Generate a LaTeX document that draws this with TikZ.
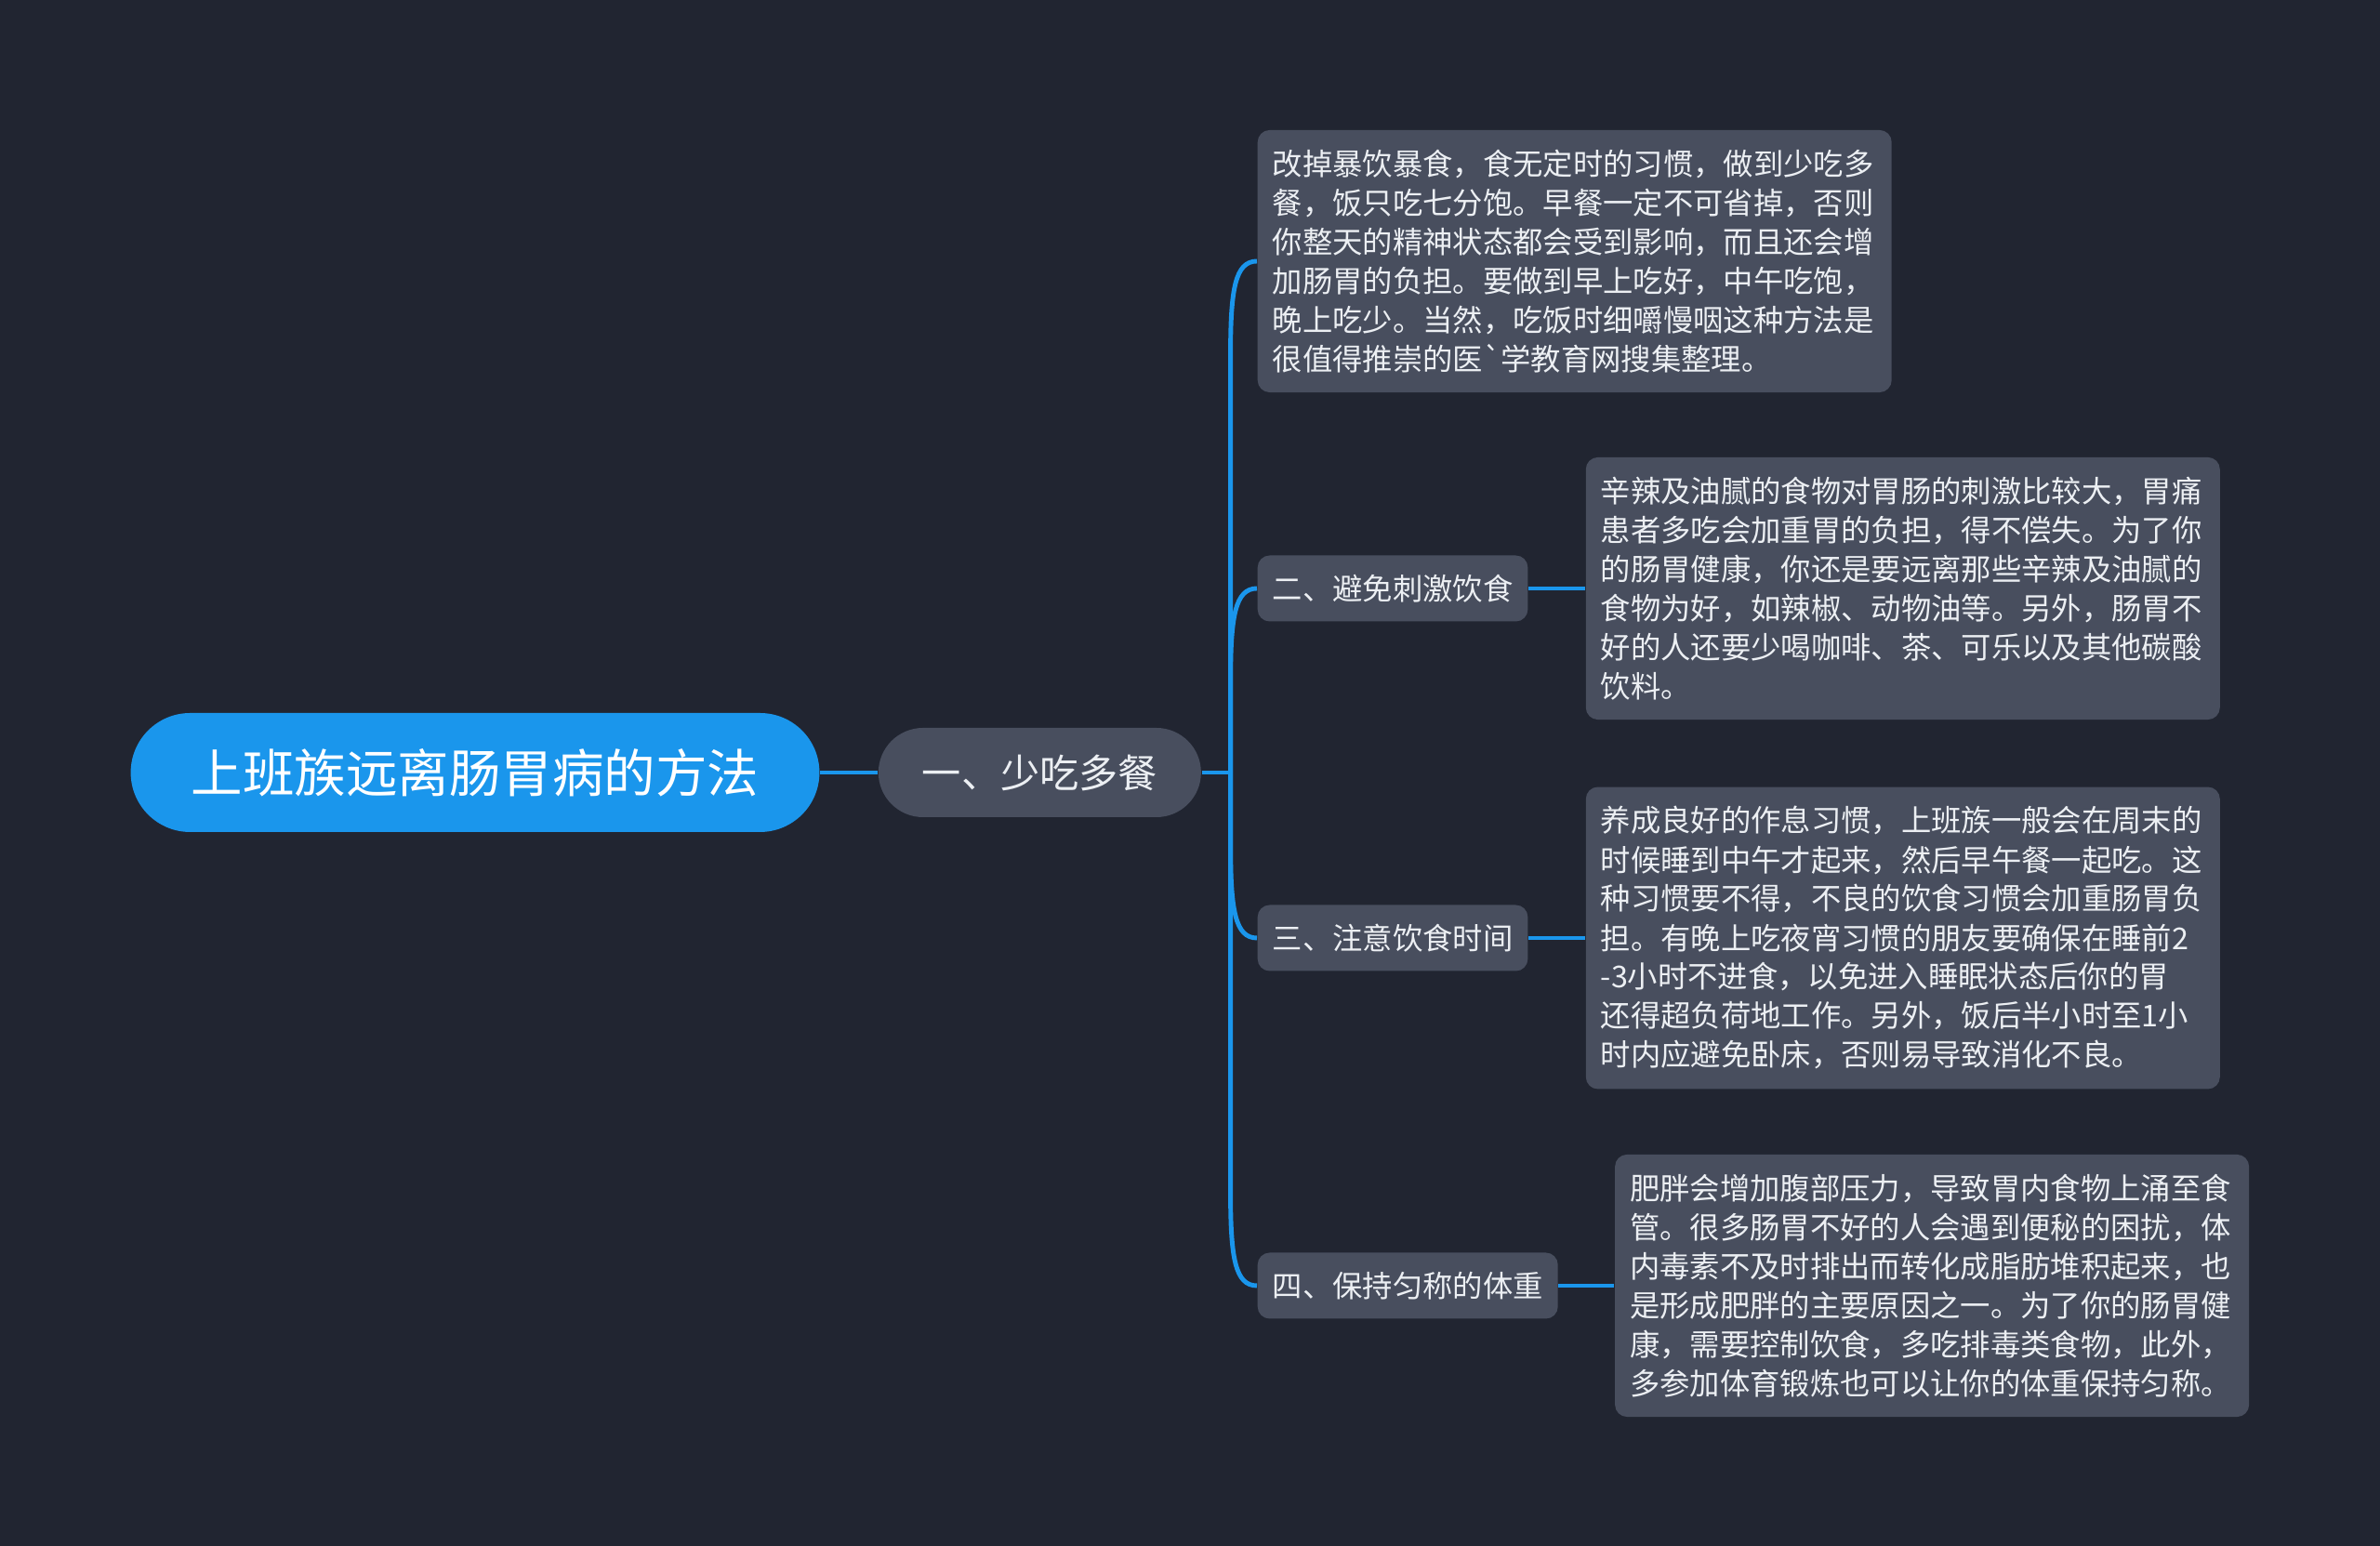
\documentclass[tikz,border=0pt]{standalone}
\usepackage{fontspec}
\setmainfont{Noto Sans CJK SC}
\usepackage{tikz}
\usetikzlibrary{positioning,calc}
\usepackage{xcolor}
\definecolor{meufundo}{RGB}{33,37,49}
\definecolor{meucinza}{RGB}{72,78,94}
\definecolor{meuazul}{RGB}{26,150,236}
\definecolor{meutexto}{RGB}{236,239,243}

\begin{document}
\begin{tikzpicture}[
        raiz/.style={fill=meuazul, text=white, rounded corners=0.64cm, minimum height=1.28cm, inner xsep=0.65cm, font=\fontsize{15.8pt}{18pt}\selectfont},
        ramo/.style={fill=meucinza, text=meutexto, rounded corners=0.48cm, minimum height=0.96cm, inner xsep=0.47cm, font=\fontsize{12pt}{14pt}\selectfont},
        topico/.style={fill=meucinza, text=meutexto, rounded corners=0.13cm, minimum height=0.71cm, inner xsep=0.16cm, font=\fontsize{9.2pt}{11.95pt}\selectfont},
        caixa/.style={fill=meucinza, text=meutexto, rounded corners=0.13cm, text width=6.5cm, align=left, inner xsep=0.16cm, inner ysep=0.21cm, font=\fontsize{9.2pt}{11.95pt}\selectfont},
        liga/.style={draw=meuazul, line width=1.4pt}
    ]
        % Fundo
        \fill[meufundo] (0,0) rectangle (25.6,16.63);
        \useasboundingbox (0,0) rectangle (25.6,16.63);

        % Tema central e ramo
        \node[raiz] (raiz) at (5.11,8.32) {上班族远离肠胃病的方法};
        \node[ramo, right=0.62cm of raiz] (ramo1) {一、少吃多餐};
        \coordinate[right=0.31cm of ramo1] (eixo);

        % Subtopicos
        \node[caixa, anchor=west] (caixaA) at (13.52,13.82) {改掉暴饮暴食，食无定时的习惯，做到少吃多\\餐，饭只吃七分饱。早餐一定不可省掉，否则\\你整天的精神状态都会受到影响，而且还会增\\加肠胃的负担。要做到早上吃好，中午吃饱，\\晚上吃少。当然，吃饭时细嚼慢咽这种方法是\\很值得推崇的医\textasciigrave 学教育网搜集整理。};
        \node[topico, anchor=west] (topico2) at (13.52,10.30) {二、避免刺激饮食};
        \node[topico, anchor=west] (topico3) at (13.52,6.54) {三、注意饮食时间};
        \node[topico, anchor=west] (topico4) at (13.52,2.80) {四、保持匀称的体重};

        % Caixas de texto
        \node[caixa, right=0.61cm of topico2] (caixaB) {辛辣及油腻的食物对胃肠的刺激比较大，胃痛\\患者多吃会加重胃的负担，得不偿失。为了你\\的肠胃健康，你还是要远离那些辛辣及油腻的\\食物为好，如辣椒、动物油等。另外，肠胃不\\好的人还要少喝咖啡、茶、可乐以及其他碳酸\\饮料。};
        \node[caixa, right=0.61cm of topico3] (caixaC) {养成良好的作息习惯，上班族一般会在周末的\\时候睡到中午才起来，然后早午餐一起吃。这\\种习惯要不得，不良的饮食习惯会加重肠胃负\\担。有晚上吃夜宵习惯的朋友要确保在睡前2\\-3小时不进食，以免进入睡眠状态后你的胃\\还得超负荷地工作。另外，饭后半小时至1小\\时内应避免卧床，否则易导致消化不良。};
        \node[caixa, right=0.6cm of topico4] (caixaD) {肥胖会增加腹部压力，导致胃内食物上涌至食\\管。很多肠胃不好的人会遇到便秘的困扰，体\\内毒素不及时排出而转化成脂肪堆积起来，也\\是形成肥胖的主要原因之一。为了你的肠胃健\\康，需要控制饮食，多吃排毒类食物，此外，\\多参加体育锻炼也可以让你的体重保持匀称。};

        % Conexoes
        \draw[liga] (raiz) -- (ramo1);
        \draw[liga] (ramo1) -- (eixo);
        \foreach \alvo/\s in {caixaA/-1, topico2/-1, topico3/1, topico4/1}
            \draw[liga] (eixo) -- ($(eixo |- \alvo.west)+(0,\s*1.0)$)
                .. controls ($(eixo |- \alvo.west)+(0,\s*0.3)$) and ($(eixo |- \alvo.west)+(0.05,0)$) .. (\alvo.west);
        \draw[liga] (topico2) -- (caixaB);
        \draw[liga] (topico3) -- (caixaC);
        \draw[liga] (topico4) -- (caixaD);
    \end{tikzpicture}
\end{document}
